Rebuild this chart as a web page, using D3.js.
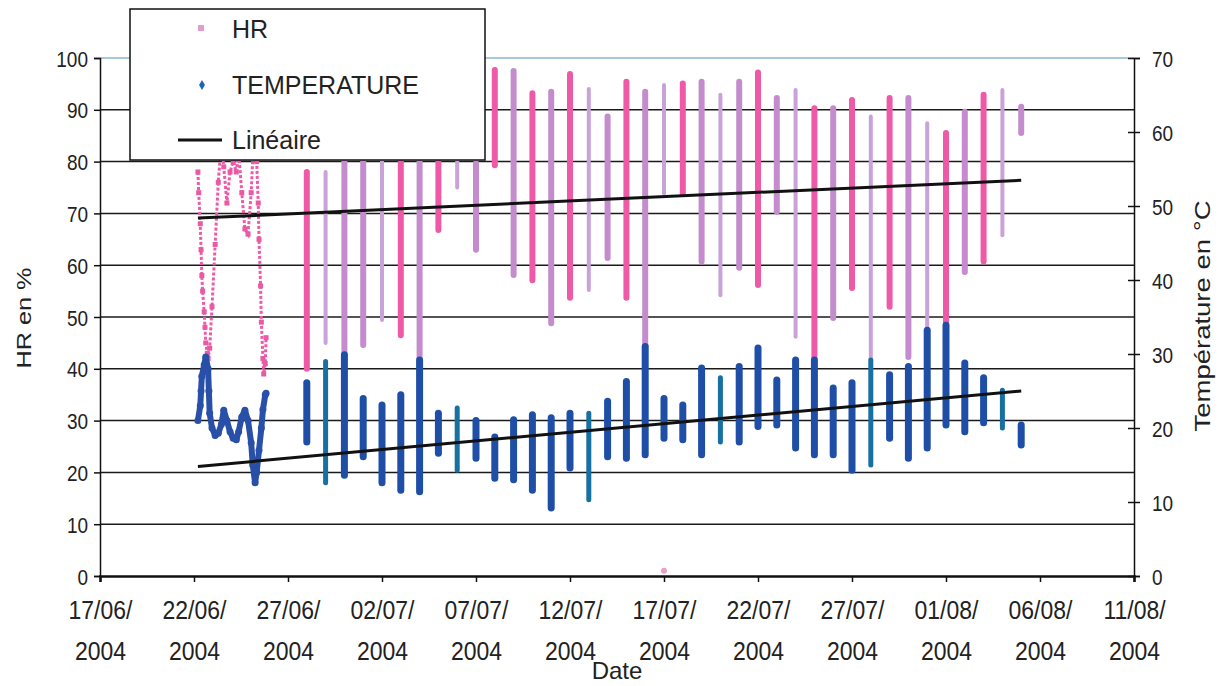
<!DOCTYPE html>
<html><head><meta charset="utf-8">
<script src="https://cdn.jsdelivr.net/npm/d3@7"></script>
<style>html,body{margin:0;padding:0;background:#fff;}svg{display:block;font-family:"Liberation Sans",Arial,sans-serif;}</style>
</head><body>
<svg id="c" width="1219" height="686"></svg>
<script>
// ---------- DATA ----------
const axisDates = ["2004-06-17","2004-06-22","2004-06-27","2004-07-02","2004-07-07","2004-07-12","2004-07-17","2004-07-22","2004-07-27","2004-08-01","2004-08-06","2004-08-11"];
const hrTicks = [0,10,20,30,40,50,60,70,80,90,100];
const tTicks = [0,10,20,30,40,50,60,70];

// continuous logging 22/06 -> 25/06 (hours after 22/06 00:00)
const earlyTHours = [5,8,9,10,13,15,18,19,20,23,27,31,35,38,42,46,50,54,57,61,65,69,73,75,78,80,83,86,88,91,92];
const earlyT      = [21,23,25,27,28.5,29.6,28,25,22,20,19,19.3,20.5,22.4,21,19.5,18.6,18.4,19.5,21.5,22.4,21,18,15,12.6,14,17,20,22.5,24.5,24.7];
const earlyHRHours = [5,6,8,9,10,11,13,14,15,17,18,20,23,27,31,35,38,42,46,50,54,57,61,65,69,73,76,78,80,82,83,85,86,88,89,91,92];
const earlyHR      = [78,74,68,63,58,55,51,48,45,43,42,44,52,64,76,84,79,72,78,80,78,82,74,67,66,74,84,88,80,72,65,56,49,42,39,41,46];

// daily spot readings (min / max of the day)
const dayDates = ["2004-06-28","2004-06-29","2004-06-30","2004-07-01","2004-07-02","2004-07-03","2004-07-04","2004-07-05","2004-07-06","2004-07-07",
  "2004-07-08","2004-07-09","2004-07-10","2004-07-11","2004-07-12","2004-07-13","2004-07-14","2004-07-15","2004-07-16","2004-07-17",
  "2004-07-18","2004-07-19","2004-07-20","2004-07-21","2004-07-22","2004-07-23","2004-07-24","2004-07-25","2004-07-26","2004-07-27",
  "2004-07-28","2004-07-29","2004-07-30","2004-07-31","2004-08-01","2004-08-02","2004-08-03","2004-08-04","2004-08-05"];
const hrMax = [78,78,88,90,88,90,88,86,85,79.7, 97.7,97.5,93.2,93.5,96.9,94,88.7,95.4,93.5,94.8, 95.1,95.4,92.9,95.4,97.2,92.3,93.8,90.3,90.3,91.9, 88.7,92.3,92.3,87.4,85.5,89.6,92.9,93.8,90.6];
const hrMin = [40,45,42,44.6,49.4,46.5,41.7,66.8,75,63, 79.3,58.1,57.1,48.8,53.7,55.2,61.4,53.7,44.3,73.9, 73.9,60.7,54.2,59.5,56.2,70.3,46.2,42.1,49.8,55.6, 41.7,52,42.3,47.5,48.1,58.7,60.7,65.8,85.5];
const hrGroup = ["p","d","l","l","d","p","l","p","d","l", "p","l","p","l","p","d","l","p","l","d", "p","l","d","l","p","l","d","p","l","p", "d","p","l","d","p","l","p","d","l"];
const tMax = [26.1,29,29.9,24,23.1,24.5,29.2,22,22.7,21, 18.8,21.1,21.8,21.4,22,22,23.6,26.3,31,24, 23.1,28.1,26.8,28.3,30.8,26.5,29.2,29.2,25.4,26.1, 29.2,27.2,28.3,33.2,33.9,28.8,26.8,25.1,20.4];
const tMin = [18.1,12.6,13.6,16.1,12.6,11.6,11.4,16.6,14.3,15.9, 13.2,13,11.6,9.2,14.6,10.3,16.1,15.9,16.4,18.6, 18.4,16.4,18.1,18.1,20.2,20.4,17.3,16.4,16.4,14.3, 15,18.6,15.9,17.3,20.4,19.5,20.7,20,17.7];
const tGroup = ["b","t","b","b","b","b","b","b","t","b", "b","b","b","b","b","t","b","b","b","b", "b","b","t","b","b","b","b","b","b","b", "t","b","b","b","b","b","b","t","b"];
const hrOutlierDates = ["2004-07-17"];
const hrOutlier = [1];

// linear trend ("Linéaire") end points
const trendDates = ["2004-06-22T05:00","2004-08-05T00:00"];
const hrTrend = [69.1, 76.4];
const tTrend = [14.8, 25.0];

const legendLabels = ["HR","TEMPERATURE","Linéaire"];

// ---------- CHART ----------
const parse = s => new Date(s.length > 10 ? s : s + "T00:00");
const L = 100, R = 1134, T = 58, B = 576;
const SY = 1.2; // vertical stretch of the original picture's lettering
const svg = d3.select("#c");
const x = d3.scaleTime().domain([parse(axisDates[0]), parse(axisDates[axisDates.length-1])]).range([L, R]);
const yH = d3.scaleLinear().domain([0,100]).range([B, T]);
const yT = d3.scaleLinear().domain([0,70]).range([B, T]);
const hrColor = d3.scaleOrdinal().domain(["p","l","d"]).range(["#ee5aa7","#c48ccd","#c9a2da"]);
const hrWidth = d3.scaleOrdinal().domain(["p","l","d"]).range([6,6,4]);
const tColor = d3.scaleOrdinal().domain(["b","t"]).range(["#1e4ea6","#1670a2"]);
const tWidth = d3.scaleOrdinal().domain(["b","t"]).range([7,5]);
const font = '"Liberation Sans", Arial, sans-serif';

// gridlines
svg.append("g").selectAll("line").data(hrTicks.filter(v => v > 0)).join("line")
  .attr("x1", L).attr("x2", R).attr("y1", d => yH(d)).attr("y2", d => yH(d))
  .attr("stroke", d => d === 100 ? "#8ab8cf" : "#1a1a1a").attr("stroke-width", 1.5);

// HR daily bars
const days = dayDates.map((d,i) => ({d: parse(d), i}));
svg.append("g").selectAll("line").data(days).join("line")
  .attr("x1", d => x(d.d)).attr("x2", d => x(d.d))
  .attr("y1", d => yH(hrMax[d.i])).attr("y2", d => yH(hrMin[d.i]))
  .attr("stroke", d => hrColor(hrGroup[d.i])).attr("stroke-width", d => hrWidth(hrGroup[d.i]))
  .attr("stroke-linecap", "round");

// HR early continuous
const start = parse("2004-06-22");
const hx = h => x(new Date(start.getTime() + h * 3600e3));
svg.append("path").datum(earlyHRHours)
  .attr("d", d3.line().x(h => hx(h)).y((h,i) => yH(earlyHR[i])))
  .attr("fill", "none").attr("stroke", "#ee5aa7").attr("stroke-width", 3).attr("stroke-dasharray", "3,2");
svg.append("g").selectAll("rect").data(earlyHRHours).join("rect")
  .attr("x", (h) => hx(h) - 2.5).attr("y", (h,i) => yH(earlyHR[i]) - 2.5)
  .attr("width", 5).attr("height", 5).attr("fill", "#e85aa5");
svg.append("g").selectAll("circle").data(hrOutlierDates).join("circle")
  .attr("cx", d => x(parse(d))).attr("cy", (d,i) => yH(hrOutlier[i])).attr("r", 3)
  .attr("fill", "#e8a0c8");

// Temperature daily bars
svg.append("g").selectAll("line").data(days).join("line")
  .attr("x1", d => x(d.d)).attr("x2", d => x(d.d))
  .attr("y1", d => yT(tMax[d.i])).attr("y2", d => yT(tMin[d.i]))
  .attr("stroke", d => tColor(tGroup[d.i])).attr("stroke-width", d => tWidth(tGroup[d.i]))
  .attr("stroke-linecap", "round");

// Temperature early continuous
svg.append("path").datum(earlyTHours)
  .attr("d", d3.line().x(h => hx(h)).y((h,i) => yT(earlyT[i])))
  .attr("fill", "none").attr("stroke", "#2850a8").attr("stroke-width", 6).attr("stroke-linejoin", "round");
svg.append("g").selectAll("circle").data(earlyTHours).join("circle")
  .attr("cx", h => hx(h)).attr("cy", (h,i) => yT(earlyT[i])).attr("r", 3.5)
  .attr("fill", "#2850a8");

// trend lines
const td = trendDates.map(parse);
svg.append("line").attr("x1", x(td[0])).attr("x2", x(td[1])).attr("y1", yH(hrTrend[0])).attr("y2", yH(hrTrend[1]))
  .attr("stroke", "#111").attr("stroke-width", 3);
svg.append("line").attr("x1", x(td[0])).attr("x2", x(td[1])).attr("y1", yT(tTrend[0])).attr("y2", yT(tTrend[1]))
  .attr("stroke", "#111").attr("stroke-width", 3);

// axes
const gL = svg.append("g").attr("transform", `translate(${L},0)`)
  .call(d3.axisLeft(yH).tickValues(hrTicks).tickSize(6).tickPadding(6));
const gR = svg.append("g").attr("transform", `translate(${R},0)`)
  .call(d3.axisRight(yT).tickValues(tTicks).tickSize(6).tickPadding(12));
gR.selectAll(".tick line").attr("x1", -6);
const gB = svg.append("g").attr("transform", `translate(0,${B})`)
  .call(d3.axisBottom(x).tickValues(axisDates.map(parse)).tickSize(6).tickFormat(""));
[gL, gR, gB].forEach(g => {
  g.select(".domain").attr("stroke", "#111").attr("stroke-width", 1.5);
  g.selectAll(".tick line").attr("stroke", "#111").attr("stroke-width", 1.5);
  g.selectAll("text").attr("font-family", font).attr("font-size", 19).attr("fill", "#222")
    .attr("dy", null).attr("y", 0).attr("dominant-baseline", "central")
    .attr("transform", `scale(1,${SY})`);
});
gB.select(".domain").attr("stroke-width", 2.5);
const fmt1 = d3.timeFormat("%d/%m/"), fmt2 = d3.timeFormat("%Y");
gB.selectAll(".tick").append("text").attr("font-family", font).attr("font-size", 23).attr("fill", "#222")
  .attr("text-anchor", "middle").attr("transform", "scale(1,1.15)")
  .each(function(d) {
    const t = d3.select(this);
    t.append("tspan").attr("x", 0).attr("y", 43 / 1.15).text(fmt1(d));
    t.append("tspan").attr("x", 0).attr("y", 84 / 1.15).text(fmt2(d));
  });

// axis titles
svg.append("text").attr("transform", "translate(31,318) rotate(-90) scale(1.2,1)").attr("text-anchor", "middle")
  .attr("font-family", font).attr("font-size", 21).attr("fill", "#222").text("HR en %");
svg.append("text").attr("transform", "translate(1210,316) rotate(-90) scale(1.25,1)").attr("text-anchor", "middle")
  .attr("font-family", font).attr("font-size", 22).attr("fill", "#222").text("Température en °C");
svg.append("text").attr("x", 617).attr("y", 679).attr("text-anchor", "middle")
  .attr("font-family", font).attr("font-size", 24).attr("fill", "#222").text("Date");

// legend
const lg = svg.append("g");
lg.append("rect").attr("x", 130).attr("y", 9).attr("width", 355).attr("height", 151)
  .attr("fill", "#fff").attr("stroke", "#111").attr("stroke-width", 1.5);
lg.append("rect").attr("x", 198).attr("y", 25).attr("width", 6).attr("height", 6).attr("fill", "#e49ccc");
lg.append("path").attr("d", d3.symbol(d3.symbolDiamond, 30)()).attr("transform", "translate(202,85)").attr("fill", "#1e64b4");
lg.append("line").attr("x1", 178).attr("x2", 222).attr("y1", 140).attr("y2", 140).attr("stroke", "#111").attr("stroke-width", 3);
lg.selectAll("text").data(legendLabels).join("text")
  .attr("x", 232).attr("y", (d,i) => [38, 94, 149][i])
  .attr("font-family", font).attr("font-size", 25).attr("fill", "#222").text(d => d);
</script>
</body></html>
